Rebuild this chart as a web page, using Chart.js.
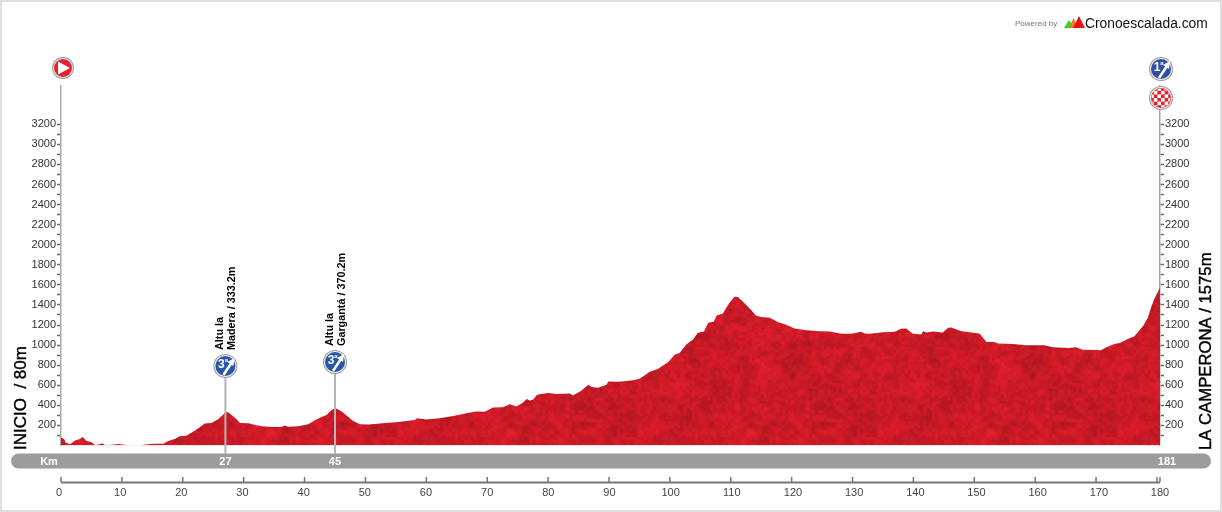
<!DOCTYPE html>
<html>
<head>
<meta charset="utf-8">
<title>Perfil</title>
<script src="https://cdn.jsdelivr.net/npm/chart.js@4"></script>
<style>
  html, body { margin: 0; padding: 0; background: #fff; }
  canvas { display: block; }
</style>
</head>
<body>
<canvas id="perfil" width="1222" height="512"></canvas>
<script>
// perfil: km recorrido / altitud en metros
const kms = [
  0, 0.55, 0.77, 1.5, 2.3, 3, 3.56, 4.2, 5, 5.6, 6.4, 6.8, 7.2, 8, 9.4, 10.8, 12.2, 13, 14.3, 15.4, 16.8,
  17.6, 18.7, 19.5, 20.6, 21.7, 22.8, 23.6, 24.7, 25.8, 26.7, 27, 27.5, 28, 28.8, 29.4, 30.8, 31.9, 33,
  34.6, 36.2, 36.7, 37.3, 39, 40.6, 41.7, 42.8, 43.6, 44.4, 45, 45.3, 46.1, 47.2, 48, 49.1, 50.5, 52.9,
  55.4, 58.1, 58.5, 60, 62.2, 64.4, 66.6, 68.2, 69.6, 71, 72.6, 73.7, 74.8, 75.9, 76.5, 77, 77.5, 78.2,
  80, 81.4, 83.6, 84.1, 85.5, 86.6, 87.1, 88.2, 89.6, 89.9, 91.5, 92.9, 94.2, 95.1, 96.7, 98, 99.7, 100.8,
  101.6, 102.7, 103.8, 104.6, 105.6, 106.3, 107.2, 107.7, 108.7, 109.7, 110.6, 111.2, 112.3, 113.4, 114.1,
  115, 116.4, 117.8, 119.1, 120.5, 122.4, 124.6, 126.2, 128.2, 129.8, 131.4, 132, 132.8, 135, 136.9, 138,
  138.8, 139.9, 141.3, 141.6, 142.2, 143.2, 144.8, 145.7, 146.2, 147.9, 148.7, 150.9, 152, 153.3, 153.9,
  156.3, 158.5, 161.5, 162.9, 165.6, 166.7, 167.8, 170, 170.8, 171.7, 173, 173.9, 175.2, 176.3, 177.7,
  178.5, 179.1, 179.6, 180.5
];
const altitudes = [
  80, 62, 28, 12, 49, 62, 85, 45, 32, 5, 12, 22, 5, 5, 15, 5, 2, 3, 12, 18, 18,
  45, 65, 92, 98, 138, 182, 218, 225, 262, 312, 333, 328, 305, 265, 225, 222, 205, 192,
  185, 185, 198, 188, 192, 212, 252, 285, 305, 352, 370, 365, 338, 285, 245, 212, 209, 222,
  235, 255, 272, 259, 272, 295, 322, 338, 335, 378, 382, 412, 388, 428, 462, 448, 455, 505,
  522, 512, 518, 498, 548, 605, 582, 575, 605, 638, 635, 642, 652, 668, 735, 762, 829, 905,
  922, 1005, 1055, 1122, 1135, 1222, 1232, 1295, 1315, 1415, 1482, 1478, 1415, 1348, 1295,
  1279, 1272, 1228, 1202, 1165, 1148, 1138, 1135, 1112, 1112, 1132, 1115, 1112, 1128, 1132, 1162,
  1165, 1112, 1105, 1138, 1125, 1135, 1125, 1172, 1175, 1138, 1132, 1112, 1032, 1032, 1015,
  1012, 998, 998, 978, 972, 978, 955, 952, 949, 978, 1012, 1022, 1062, 1088, 1188,
  1272, 1388, 1465, 1575
];

const puertoKm = [27, 45];
const puertoNombre = ["Altu la", "Altu la"];
const puertoLinea2 = ["Madera / 333.2m", "Gargantá / 370.2m"];
const puertoCat = ["3", "3"];
const puertoIconoY = [366, 362];

const kmBarra = ["27", "45", "181"];
const kmFinal = 180.5;

// textura rugosa del relieve, con ruido fijo
function crearTextura() {
  const size = 240;
  const c = document.createElement("canvas");
  c.width = size;
  c.height = size;
  const g = c.getContext("2d");
  const img = g.createImageData(size, size);
  let seed = 12345;
  const rnd = () => {
    seed = (seed * 1103515245 + 12345) & 0x7fffffff;
    return seed / 0x7fffffff;
  };
  const liso = (t) => t * t * (3 - 2 * t);
  function capa(celda) {
    const n = size / celda;
    const t = [];
    for (let i = 0; i < n * n; i++) t.push(rnd());
    return (x, y) => {
      const fx = x / celda, fy = y / celda;
      const ix = Math.floor(fx), iy = Math.floor(fy);
      const tx = liso(fx - ix), ty = liso(fy - iy);
      const a = t[iy * n + ix], b = t[iy * n + (ix + 1) % n];
      const d = t[((iy + 1) % n) * n + ix], e = t[((iy + 1) % n) * n + (ix + 1) % n];
      return (a * (1 - tx) + b * tx) * (1 - ty) + (d * (1 - tx) + e * tx) * ty;
    };
  }
  const c1 = capa(24), c2 = capa(8), c3 = capa(3);
  for (let y = 0; y < size; y++) {
    for (let x = 0; x < size; x++) {
      const v = 0.2 * c1(x, y) + 0.4 * c2(x, y) + 0.4 * c3(x, y);
      const k = 0.74 + 0.36 * v + (rnd() - 0.5) * 0.05;
      const p = (y * size + x) * 4;
      img.data[p] = 220 * k;
      img.data[p + 1] = 28 * k;
      img.data[p + 2] = 42 * k;
      img.data[p + 3] = 255;
    }
  }
  g.putImageData(img, 0, 0);
  return g.createPattern(c, "repeat");
}

function circuloBase(g, x, y, r, color) {
  g.beginPath();
  g.arc(x, y, r, 0, Math.PI * 2);
  g.fillStyle = "#9a9a9a";
  g.fill();
  g.beginPath();
  g.arc(x, y, r - 1, 0, Math.PI * 2);
  g.fillStyle = "#ececec";
  g.fill();
  g.beginPath();
  g.arc(x, y, r - 2, 0, Math.PI * 2);
  g.fillStyle = color;
  g.fill();
}

function iconoSalida(g, x, y) {
  circuloBase(g, x, y, 11, "#e8202c");
  g.beginPath();
  g.moveTo(x - 5, y - 6.5);
  g.lineTo(x + 7, y);
  g.lineTo(x - 5, y + 6.5);
  g.closePath();
  g.fillStyle = "#fff";
  g.fill();
}

function iconoPuerto(g, x, y, cat, color) {
  circuloBase(g, x, y, 12, color);
  g.strokeStyle = "#fff";
  g.fillStyle = "#fff";
  g.lineWidth = 2.5;
  g.beginPath();
  g.moveTo(x - 2, y + 9);
  g.lineTo(x + 6, y - 3);
  g.stroke();
  g.beginPath();
  g.moveTo(x + 9, y - 8);
  g.lineTo(x + 8, y);
  g.lineTo(x + 2, y - 4);
  g.closePath();
  g.fill();
  g.font = "bold 12px 'Liberation Sans'";
  g.textAlign = "center";
  g.textBaseline = "middle";
  g.fillText(cat, x - 4, y - 1);
  g.font = "bold 6px 'Liberation Sans'";
  g.fillText("a", x + 1, y - 6);
}

function iconoMeta(g, x, y) {
  circuloBase(g, x, y, 12, "#e8202c");
  g.save();
  g.beginPath();
  g.arc(x, y, 9.5, 0, Math.PI * 2);
  g.clip();
  g.fillStyle = "#fff";
  for (let i = -3; i < 3; i++) {
    for (let j = -3; j < 3; j++) {
      if ((i + j + 6) % 2 === 0) g.fillRect(x + i * 3.6, y + j * 3.6, 3.6, 3.6);
    }
  }
  g.restore();
}

function textoVertical(g, texto, x, y, fuente, color, grosor) {
  g.save();
  g.translate(x, y);
  g.rotate(-Math.PI / 2);
  g.font = fuente;
  g.fillStyle = color;
  g.textAlign = "left";
  g.textBaseline = "alphabetic";
  g.fillText(texto, 0, 0);
  if (grosor) {
    g.strokeStyle = color;
    g.lineWidth = grosor;
    g.strokeText(texto, 0, 0);
  }
  g.restore();
}

// todo lo que va alrededor del perfil: barra, eje de km, iconos y textos
const adornos = {
  id: "adornos",
  afterDraw(chart) {
    const g = chart.ctx;
    const xs = chart.scales.x;
    const fin = xs.getPixelForValue(kmFinal);

    g.save();
    g.strokeStyle = "#dedede";
    g.lineWidth = 2;
    g.strokeRect(1, 1, 1220, 510);

    // barra gris de km
    g.beginPath();
    g.roundRect(11, 453.5, 1200, 15, 7.5);
    g.fillStyle = "#9c9c9a";
    g.fill();

    // lineas de los puertos
    puertoKm.forEach((km, i) => {
      const x = xs.getPixelForValue(km);
      g.fillStyle = "#b4b4b4";
      g.fillRect(x - 1, puertoIconoY[i], 2, 454 - puertoIconoY[i]);
      iconoPuerto(g, x, puertoIconoY[i], puertoCat[i], "#2a55a8");
      textoVertical(g, puertoNombre[i], x - 2, puertoIconoY[i] - 16, "bold 10.8px 'Liberation Sans'", "#000");
      textoVertical(g, puertoLinea2[i], x + 10, puertoIconoY[i] - 16, "bold 10.8px 'Liberation Sans'", "#000");
    });

    g.font = "bold 11px 'Liberation Sans'";
    g.fillStyle = "#fff";
    g.textAlign = "center";
    g.textBaseline = "middle";
    g.fillText("Km", 49, 461.5);
    g.fillText(kmBarra[0], xs.getPixelForValue(27), 461.5);
    g.fillText(kmBarra[1], xs.getPixelForValue(45), 461.5);
    g.fillText(kmBarra[2], 1167, 461.5);

    // eje de km con las marcas hacia arriba
    g.fillStyle = "#777";
    g.fillRect(xs.getPixelForValue(0), 481.5, fin - xs.getPixelForValue(0), 2);
    xs.ticks.forEach((t) => {
      g.fillRect(xs.getPixelForValue(t.value) - 0.75, 477, 1.5, 5);
    });
    g.fillRect(fin - 0.75, 477, 1.5, 5);

    iconoSalida(g, 63, 68);
    iconoPuerto(g, fin + 1, 69, "1", "#2f4fa3");
    iconoMeta(g, fin + 1, 98);

    textoVertical(g, "INICIO  / 80m", 26, 450, "17px 'Liberation Sans'", "#000", 0.4);
    textoVertical(g, "LA CAMPERONA / 1575m", 1211, 450, "16.7px 'Liberation Sans'", "#000", 0.4);

    // logo
    g.fillStyle = "#777";
    g.font = "8px 'Liberation Sans'";
    g.textAlign = "left";
    g.textBaseline = "middle";
    g.fillText("Powered by", 1015, 23.5);
    [["#22dd22", 1064, 1074, 20], ["#ee7722", 1069, 1078, 18], ["#ee1111", 1073, 1085, 16]].forEach((m) => {
      g.beginPath();
      g.moveTo(m[1], 28);
      g.lineTo((m[1] + m[2]) / 2, m[3]);
      g.lineTo(m[2], 28);
      g.closePath();
      g.fillStyle = m[0];
      g.fill();
    });
    g.fillStyle = "#111";
    g.font = "13.8px 'Liberation Sans'";
    g.textBaseline = "alphabetic";
    g.fillText("Cronoescalada.com", 1085, 28);
    g.restore();
  }
};

function decenas(scale) {
  const marcas = [];
  for (let v = 0; v <= 180; v += 10) marcas.push({ value: v });
  scale.ticks = marcas;
}

function ejeAltura(posicion, ancho) {
  return {
    type: "linear",
    position: posicion,
    min: 0,
    max: 3586,
    afterBuildTicks(scale) {
      const marcas = [];
      for (let v = 100; v <= 3200; v += 100) marcas.push({ value: v });
      scale.ticks = marcas;
    },
    afterFit(scale) { scale.width = ancho; },
    border: { color: "#aaa", width: 1.5 },
    grid: { drawOnChartArea: false, tickLength: 4, tickColor: "#666", tickWidth: 1.5 },
    ticks: {
      autoSkip: false,
      padding: 1,
      color: "#333",
      font: { family: "'Liberation Sans'", size: 11 },
      callback: (v) => (v % 200 === 0 ? v : "")
    }
  };
}

new Chart(document.getElementById("perfil"), {
  type: "line",
  data: {
    datasets: [{
      data: kms.map((km, i) => ({ x: km, y: altitudes[i] })),
      fill: "origin",
      backgroundColor: crearTextura(),
      borderWidth: 0,
      pointRadius: 0,
      tension: 0
    }]
  },
  plugins: [adornos],
  options: {
    responsive: false,
    animation: false,
    layout: { padding: { top: 85.5 } },
    plugins: { legend: { display: false }, tooltip: { enabled: false } },
    scales: {
      x: {
        type: "linear",
        min: 0,
        max: kmFinal,
        afterFit(scale) { scale.height = 0; },
        border: { display: false },
        grid: { display: false },
        afterBuildTicks: decenas,
        ticks: { display: false }
      },
      // los numeros de km van algo desplazados respecto a las marcas, como en el original
      xNumeros: {
        type: "linear",
        position: "bottom",
        min: 0.33,
        max: 180,
        afterFit(scale) { scale.height = 66.5; },
        border: { display: false },
        grid: { display: false },
        afterBuildTicks: decenas,
        ticks: {
          autoSkip: false,
          maxRotation: 0,
          padding: 33,
          color: "#444",
          font: { family: "'Liberation Sans'", size: 11 }
        }
      },
      y: ejeAltura("left", 61),
      y2: ejeAltura("right", 62)
    }
  }
});
</script>
</body>
</html>
